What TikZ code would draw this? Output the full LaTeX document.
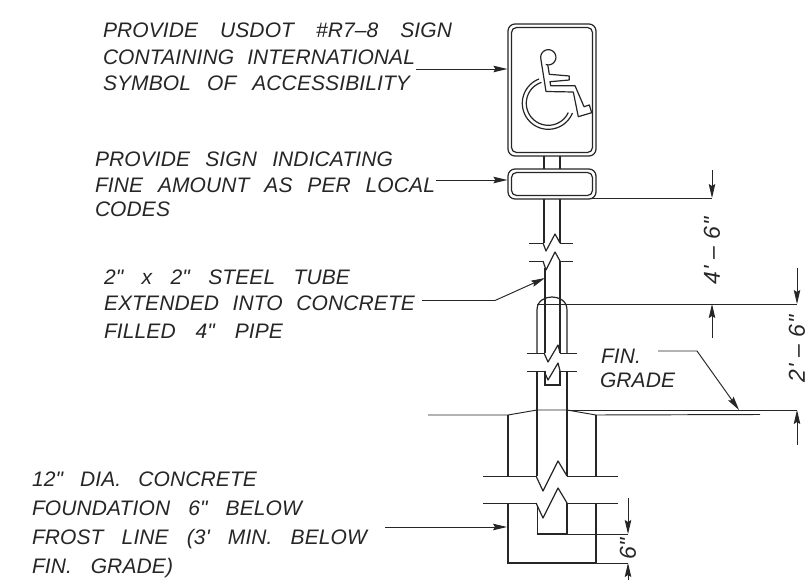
\documentclass[tikz,border=0pt]{standalone}
\usepackage{fontspec}
\usetikzlibrary{arrows.meta}
\newfontfamily\labfont[LetterSpace=0.5]{Liberation Sans}
\newfontfamily\dimfont[LetterSpace=3]{Liberation Sans}
\definecolor{ink}{HTML}{262626}
\newcommand{\fitline}[2]{\hbox to #1pt{\spaceskip=10pt plus 40pt minus 9pt #2}}
\tikzset{
  line/.style={draw=ink,line width=0.95pt},
  thick line/.style={draw=ink,line width=1.2pt},
  tip/.style={-{Stealth[length=14pt,width=6.5pt,inset=2pt]},draw=ink,line width=0.95pt},
  lab/.style={anchor=base west,inner sep=0pt,outer sep=0pt,text=ink,font=\labfont\itshape\fontsize{21}{24}\selectfont},
  dim/.style={anchor=center,inner sep=0pt,outer sep=0pt,text=ink,rotate=90,font=\dimfont\itshape\fontsize{23}{26}\selectfont}
}
\begin{document}
\begin{tikzpicture}[x=1pt,y=-1pt]
\useasboundingbox[fill=white] (0,0) rectangle (810,580);
% signs
\node[thick line,rounded corners=7pt,minimum width=88pt,minimum height=132pt,inner sep=0pt] (sign) at (552,90) {};
\node[thick line,rounded corners=5pt,minimum width=81pt,minimum height=125pt,inner sep=0pt] (signin) at (552,90) {};
\node[thick line,rounded corners=7pt,minimum width=88pt,minimum height=30pt,inner sep=0pt] (fine) at (552,184) {};
\node[thick line,rounded corners=5pt,minimum width=81pt,minimum height=23pt,inner sep=0pt] (finein) at (552,184) {};
% symbol
\draw[thick line,line join=round] (541,60) -- (546,91.5) -- (573.3,92) -- (578.3,116.7) -- (591.7,112.7) -- (589.3,105) -- (584,106.7) -- (575,85.7) -- (550.7,85.7) -- (550,81.7) -- (569.3,80) -- (569.3,76) -- (549.3,74.3) -- (547.7,64.5);
\draw[thick line] plot[domain=-110:200,samples=50] ({548.3+7.6*sin(\x)},{57.3-7.6*cos(\x)});
\draw[thick line] plot[domain=111:338,samples=50] ({548.3+26*cos(\x)},{103.3-26*sin(\x)});
\draw[thick line] plot[domain=108:335,samples=50] ({548.3+22*cos(\x)},{103.3-22*sin(\x)});
% post
\draw[thick line] (544,156) -- (544,169.5) (560,156) -- (560,169.5);
\draw[thick line] (544,199) -- (544,243) (560,199) -- (560,243);
\draw[line] (529,243) -- (543,243);
\draw[thick line,line join=round] (543,243) -- (546,251) -- (555,234) -- (560,243);
\draw[line] (560,243) -- (573,243);
\draw[line] (529,261) -- (543,261);
\draw[thick line,line join=round] (543,261) -- (546,270) -- (555,252) -- (560,261);
\draw[line] (560,261) -- (573,261);
\draw[thick line] (545,268) -- (545,353) (560,261) -- (560,353);
% pipe
\draw[thick line] (537,353) -- (537,310) .. controls (537,300) and (546,297) .. (552,297) .. controls (558,297) and (567,300) .. (567,310) -- (567,353);
\draw[line] (527,353) -- (544,353);
\draw[thick line,line join=round] (544,353) -- (548,362) -- (558,345) -- (560,353);
\draw[line] (560,353) -- (577,353);
\draw[line] (527,371) -- (544,371);
\draw[thick line,line join=round] (544,371) -- (548,380) -- (558,363) -- (560,371);
\draw[line] (560,371) -- (577,371);
\draw[thick line] (545,371) -- (545,385) -- (560,385) -- (560,371);
\draw[thick line] (537,371) -- (537,476) (567,371) -- (567,476);
% grade
\draw[line] (428,415) -- (508,415) -- (537,410) -- (567,410) -- (596,415) -- (760,414.5);
\draw[line] (567,410) -- (797,410);
% foundation
\draw[thick line] (508,415) -- (508,476) (596,415) -- (596,476);
\draw[line] (483,476) -- (536,476) (567,476) -- (618,476);
\draw[thick line,line join=round] (536,476) -- (543,491) -- (558,461) -- (567,476);
\draw[line] (483,503) -- (536,503) (567,503) -- (618,503);
\draw[thick line,line join=round] (536,503) -- (543,518) -- (558,488) -- (567,503);
\draw[thick line] (537.5,505) -- (537.5,534) -- (567,534) -- (567,503);
\draw[thick line] (508,503) -- (508,563) -- (596,563) -- (596,503);
\draw[line] (567,534) -- (628,534) (596,563) -- (628,563);
% extension lines
\draw[line] (592,198) -- (712,198);
\draw[line] (537,304) -- (797,304);
% dimension arrows
\coordinate (d1a) at (712,170);
\coordinate (d1b) at (712,198);
\coordinate (d1c) at (712,338);
\coordinate (d1d) at (712,304);
\draw[tip] (d1a) -- (d1b);
\draw[tip] (d1c) -- (d1d);
\coordinate (d2a) at (797,268);
\coordinate (d2b) at (797,304);
\coordinate (d2c) at (797,445);
\coordinate (d2d) at (797,410);
\draw[tip] (d2a) -- (d2b);
\draw[tip] (d2c) -- (d2d);
\coordinate (d3a) at (628,498);
\coordinate (d3b) at (628,534);
\coordinate (d3c) at (628,582);
\coordinate (d3d) at (628,563);
\draw[tip] (d3a) -- (d3b);
\draw[tip] (d3c) -- (d3d);
% labels
\node[lab] (t1) at (103,38) {\fitline{349}{PROVIDE USDOT \#R7–8 SIGN}};
\node[lab] (t2) at (103,65) {\fitline{312}{CONTAINING INTERNATIONAL}};
\node[lab] (t3) at (103,91) {\fitline{307}{SYMBOL OF ACCESSIBILITY}};
\node[lab] (t4) at (95,167) {\fitline{298}{PROVIDE SIGN INDICATING}};
\node[lab] (t5) at (95,192) {\fitline{340}{FINE AMOUNT AS PER LOCAL}};
\node[lab] (t6) at (95,216) {CODES};
\node[lab] (t7) at (104,284) {\fitline{246}{2" x 2" STEEL TUBE}};
\node[lab] (t8) at (104,310) {\fitline{311}{EXTENDED INTO CONCRETE}};
\node[lab] (t9) at (104,338) {\fitline{179}{FILLED 4" PIPE}};
\node[lab] (t10) at (601,363) {FIN.};
\node[lab] (t11) at (600,387) {GRADE};
\node[lab] (t12) at (32,486) {\fitline{225}{12" DIA. CONCRETE}};
\node[lab] (t13) at (32,515) {\fitline{270}{FOUNDATION 6" BELOW}};
\node[lab] (t14) at (32,544) {\fitline{335}{FROST LINE (3' MIN. BELOW}};
\node[lab] (t15) at (32,573) {\fitline{141}{FIN. GRADE)}};
\node[dim] (n1) at (712,251) {4' – 6"};
\node[dim] (n2) at (797,349) {2' – 6"};
\node[dim] (n3) at (628,549) {6"};
% leaders
\coordinate (l1) at (416,69);
\draw[tip] (l1) -- (sign.west |- l1);
\coordinate (l2) at (436,180);
\draw[tip] (l2) -- (fine.west |- l2);
\coordinate (l3) at (422,300.5);
\coordinate (l3m) at (495,300.5);
\coordinate (l3e) at (545,278);
\draw[tip] (l3) -- (l3m) -- (l3e);
\coordinate (l4) at (385,527);
\coordinate (l4e) at (507,527);
\draw[tip] (l4) -- (l4e);
\coordinate (l5) at (658,351);
\coordinate (l5m) at (697,351);
\coordinate (l5e) at (739,410);
\draw[tip] (l5) -- (l5m) -- (l5e);
\end{tikzpicture}
\end{document}
